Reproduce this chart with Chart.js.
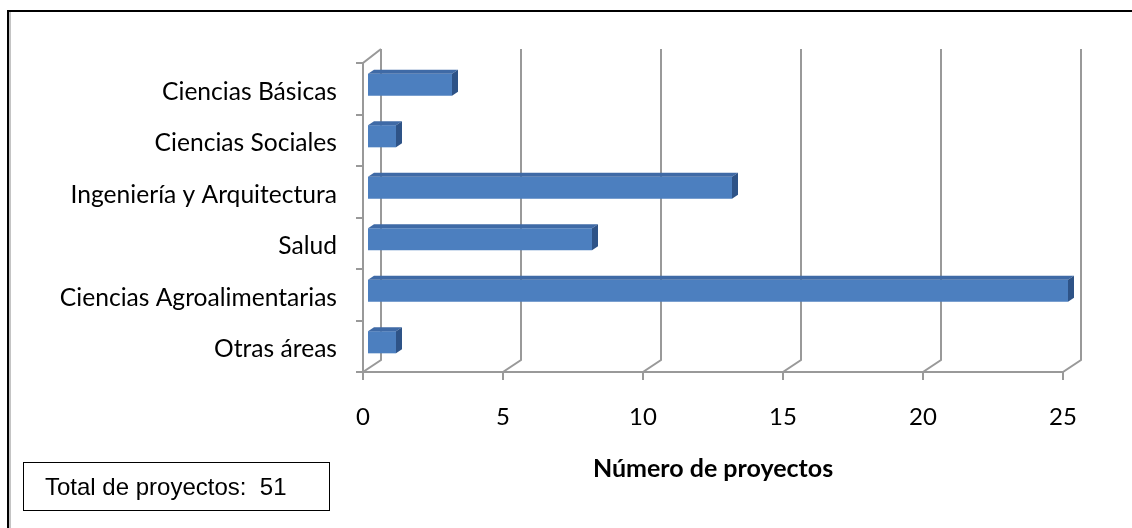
<!DOCTYPE html>
<html>
<head>
<meta charset="utf-8">
<script src="https://cdn.jsdelivr.net/npm/chart.js@4/dist/chart.umd.min.js"></script>
<style>
  html, body { margin: 0; padding: 0; background: #fff; }
  #wrap { position: relative; width: 1132px; height: 528px; overflow: hidden; }
  #c { position: absolute; left: 0; top: 0; }
  #total {
    position: absolute; left: 23px; top: 462px; width: 305px; height: 47px;
    border: 1.5px solid #000; box-sizing: content-box;
    font-family: "Liberation Sans", Arial, sans-serif; font-size: 24px; color: #000;
    line-height: 47px; white-space: pre;
  }
  #total span { position: absolute; left: 21px; }
</style>
</head>
<body>
<div id="wrap">
  <canvas id="c" width="1132" height="528"></canvas>
  <div id="total"><span>Total de proyectos:  51</span></div>
</div>
<script>
// ---- data ----
const categories = ["Ciencias Básicas", "Ciencias Sociales", "Ingeniería y Arquitectura", "Salud", "Ciencias Agroalimentarias", "Otras áreas"];
const projectCounts = [3, 1, 13, 8, 25, 1];
const xTicks = [0, 5, 10, 15, 20, 25];
const axisTitle = "Número de proyectos";

// ---- style ----
const LABEL_FONT = "Lato, 'Open Sans', sans-serif";
const GRID = "#999999";
const WALL_DX = 18, WALL_DY_TOP = -14, WALL_DY_BOT = -12;
const BAR_SHIFT_X = 5, BAR_SHIFT_Y = -4;
const BAR_DX = 6, BAR_DY = -4;

const framePlugin = {
  id: 'frame3d',
  beforeDraw(chart) {
    const ctx = chart.ctx;
    ctx.save();
    ctx.fillStyle = '#fff';
    ctx.fillRect(0, 0, chart.width, chart.height);
    ctx.fillStyle = '#000';
    ctx.fillRect(7, 10, chart.width - 7, 2);
    ctx.fillRect(7, 10, 2, chart.height - 10);
    ctx.fillStyle = '#c4c4c4';
    ctx.fillRect(9, 12, 2, chart.height - 12);
    ctx.restore();
  },
  beforeDatasetsDraw(chart) {
    const ctx = chart.ctx;
    const xs = chart.scales.x, ys = chart.scales.y;
    const top = ys.top, bottom = ys.bottom;
    ctx.save();
    ctx.strokeStyle = GRID;
    ctx.lineWidth = 2;
    xTicks.forEach(v => {
      const px = Math.round(xs.getPixelForValue(v));
      ctx.beginPath();
      ctx.moveTo(px + WALL_DX, top + WALL_DY_TOP);
      ctx.lineTo(px + WALL_DX, bottom + WALL_DY_BOT);
      ctx.lineTo(px, bottom);
      ctx.lineTo(px, bottom + 8);
      ctx.stroke();
    });
    const x0 = Math.round(xs.getPixelForValue(xTicks[0]));
    const x1 = Math.round(xs.getPixelForValue(xTicks[xTicks.length - 1]));
    ctx.beginPath();
    ctx.moveTo(x0, bottom);
    ctx.lineTo(x1, bottom);
    ctx.stroke();
    ctx.beginPath();
    ctx.moveTo(x0, bottom);
    ctx.lineTo(x0, top);
    ctx.lineTo(x0 + WALL_DX, top + WALL_DY_TOP);
    ctx.stroke();
    const n = categories.length;
    for (let k = 0; k <= n; k++) {
      const py = Math.round(top + k * (bottom - top) / n);
      ctx.beginPath();
      ctx.moveTo(x0 - 7, py);
      ctx.lineTo(x0, py);
      ctx.stroke();
    }
    ctx.restore();
  },
  beforeDatasetDraw(chart) {
    chart.ctx.save();
    chart.ctx.translate(BAR_SHIFT_X, BAR_SHIFT_Y);
  },
  afterDatasetDraw(chart, args) {
    const ctx = chart.ctx;
    args.meta.data.forEach(bar => {
      const xa = Math.min(bar.base, bar.x), xb = Math.max(bar.base, bar.x);
      const ya = bar.y - bar.height / 2, yb = bar.y + bar.height / 2;
      ctx.fillStyle = '#3f6aa6';
      ctx.beginPath();
      ctx.moveTo(xa, ya);
      ctx.lineTo(xb, ya);
      ctx.lineTo(xb + BAR_DX, ya + BAR_DY);
      ctx.lineTo(xa + BAR_DX, ya + BAR_DY);
      ctx.closePath();
      ctx.fill();
      ctx.fillStyle = '#2e5387';
      ctx.beginPath();
      ctx.moveTo(xb, ya);
      ctx.lineTo(xb + BAR_DX, ya + BAR_DY);
      ctx.lineTo(xb + BAR_DX, yb + BAR_DY);
      ctx.lineTo(xb, yb);
      ctx.closePath();
      ctx.fill();
    });
    ctx.restore();
  }
};

const ctx = document.getElementById('c').getContext('2d');
new Chart(ctx, {
  type: 'bar',
  data: {
    labels: categories,
    datasets: [{
      data: projectCounts,
      backgroundColor: (c) => {
        const el = c.element;
        if (!el || el.y === undefined) return '#4c7fbf';
        const y0 = el.y - el.height / 2, y1 = el.y + el.height / 2;
        const g = c.chart.ctx.createLinearGradient(0, y0, 0, y1);
        g.addColorStop(0, '#4b7bbb');
        g.addColorStop(0.5, '#5388c8');
        g.addColorStop(1, '#4c7fbf');
        return g;
      },
      borderWidth: 0,
      categoryPercentage: 1,
      barPercentage: 0.43,
      clip: false
    }]
  },
  options: {
    indexAxis: 'y',
    responsive: false,
    animation: false,
    events: [],
    layout: { padding: { top: 63, right: 69, left: 0, bottom: 0 } },
    plugins: { legend: { display: false }, tooltip: { enabled: false } },
    scales: {
      x: {
        min: 0, max: 25,
        afterBuildTicks: (s) => { s.ticks = xTicks.map(v => ({ value: v })); },
        afterFit: (s) => { s.height = 156; },
        grid: { display: false },
        border: { display: false },
        ticks: { color: '#000', font: { family: LABEL_FONT, size: 24 }, padding: 23, maxRotation: 0 },
        title: { display: true, text: axisTitle, color: '#000', font: { family: LABEL_FONT, size: 25, weight: 'bold' }, padding: { top: 0, bottom: 44 } }
      },
      y: {
        afterFit: (s) => { s.width = 363; },
        grid: { display: false },
        border: { display: false },
        ticks: { color: '#000', font: { family: LABEL_FONT, size: 24.6 }, padding: 18, labelOffset: 3 }
      }
    }
  },
  plugins: [framePlugin]
});
</script>
</body>
</html>
